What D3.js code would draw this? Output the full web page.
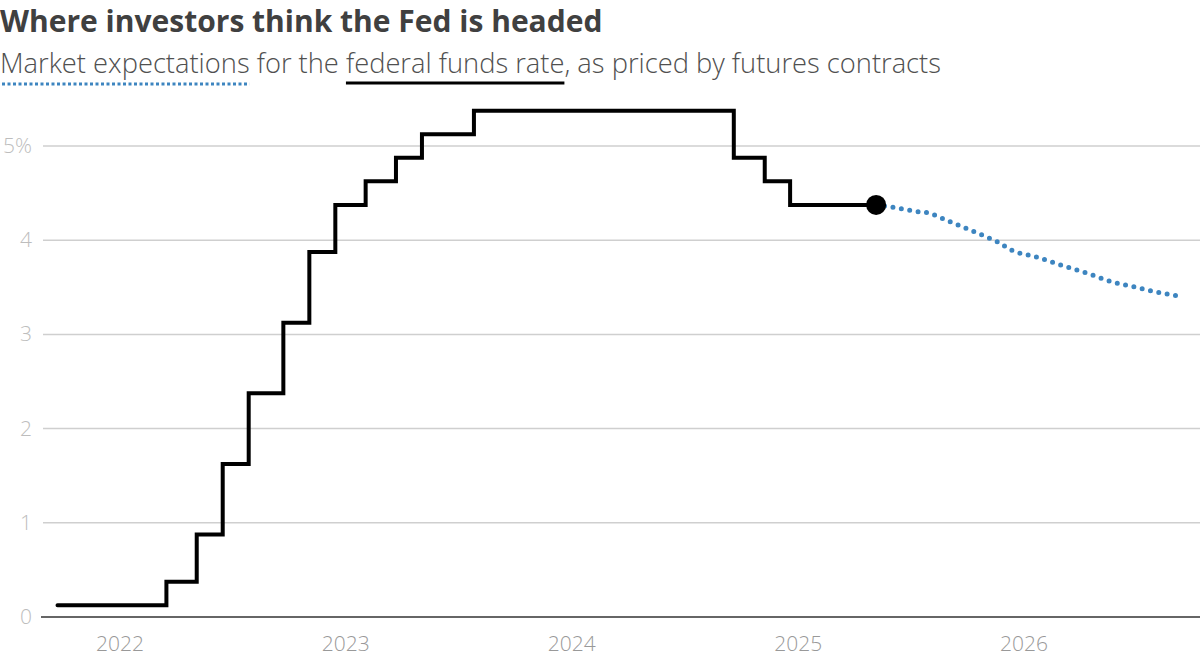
<!DOCTYPE html>
<html>
<head>
<meta charset="utf-8">
<script src="https://cdn.jsdelivr.net/npm/d3@7"></script>
<style>
  body { margin: 0; background: #fff; }
  text { font-family: "Open Sans", "Noto Sans", sans-serif; }
</style>
</head>
<body>
<div id="chart"></div>
<script>
'use strict';

// fed funds target midpoint, step changes
const rateDates = ['2021-09-22', '2022-03-17', '2022-05-05', '2022-06-16', '2022-07-28',
  '2022-09-22', '2022-11-03', '2022-12-15', '2023-02-02', '2023-03-23', '2023-05-04',
  '2023-07-27', '2024-09-19', '2024-11-08', '2024-12-19', '2025-05-07'];
const rateValues = [0.125, 0.375, 0.875, 1.625, 2.375, 3.125, 3.875, 4.375, 4.625,
  4.875, 5.125, 5.375, 4.875, 4.625, 4.375, 4.375];

// futures implied path
const futDates = ['2025-05-07', '2025-06-03', '2025-07-16', '2025-07-30', '2025-08-29',
  '2025-09-24', '2025-11-03', '2025-11-20', '2025-12-10', '2026-01-22', '2026-02-28',
  '2026-04-13', '2026-05-22', '2026-07-01', '2026-08-11', '2026-09-16'];
const futValues = [4.375, 4.35, 4.30, 4.29, 4.21, 4.14, 4.03, 3.98, 3.90, 3.82, 3.74,
  3.65, 3.56, 3.50, 3.44, 3.40];

const yTicks = [0, 1, 2, 3, 4, 5];
const xTicks = ['2022', '2023', '2024', '2025', '2026'];

const width = 1200;
const height = 667;
const parse = d3.timeParse('%Y-%m-%d');

const svg = d3.select('#chart')
  .append('svg')
  .attr('width', width)
  .attr('height', height);

// title + subtitle
svg.append('text')
  .attr('x', 0)
  .attr('y', 32)
  .attr('font-size', 30)
  .attr('font-weight', 700)
  .attr('fill', '#404040')
  .text('Where investors think the Fed is headed');

const subParts = ['Market expectations', ' for the ', 'federal funds rate', ', as priced by futures contracts'];
const sub = svg.append('text')
  .attr('x', 0)
  .attr('y', 73)
  .attr('font-size', 27.3)
  .attr('font-weight', 300)
  .attr('fill', '#505050');
const spans = subParts.map(p => sub.append('tspan').text(p));
const offs = [];
let acc = 0;
spans.forEach(s => { offs.push(acc); acc += s.node().getComputedTextLength(); });

svg.append('line')
  .attr('x1', 2).attr('x2', offs[1])
  .attr('y1', 84).attr('y2', 84)
  .attr('stroke', '#3d85c0')
  .attr('stroke-width', 3)
  .attr('stroke-dasharray', '3 2.5');
svg.append('line')
  .attr('x1', offs[2]).attr('x2', offs[3])
  .attr('y1', 83).attr('y2', 83)
  .attr('stroke', '#000')
  .attr('stroke-width', 3);

// scales
const x = d3.scaleTime()
  .domain([parse('2022-01-01'), parse('2026-01-01')])
  .range([120, 1024]);
const y = d3.scaleLinear()
  .domain([0, 5])
  .range([617, 146]);

// gridlines
svg.append('g')
  .selectAll('line')
  .data(yTicks.filter(d => d > 0))
  .enter()
  .append('line')
  .attr('x1', 43).attr('x2', width)
  .attr('y1', d => y(d)).attr('y2', d => y(d))
  .attr('stroke', '#cfcfcf')
  .attr('stroke-width', 1.5);

svg.append('g')
  .selectAll('text')
  .data(yTicks)
  .enter()
  .append('text')
  .attr('x', 32)
  .attr('y', d => y(d) + 7)
  .attr('text-anchor', 'end')
  .attr('font-size', 21)
  .attr('font-weight', 300)
  .attr('fill', '#bdbdbd')
  .text(d => d === 5 ? '5%' : d);

// x axis
svg.append('line')
  .attr('x1', 41).attr('x2', width)
  .attr('y1', y(0)).attr('y2', y(0))
  .attr('stroke', '#666')
  .attr('stroke-width', 2);

svg.append('g')
  .selectAll('text')
  .data(xTicks)
  .enter()
  .append('text')
  .attr('x', d => x(parse(d + '-01-01')))
  .attr('y', 651)
  .attr('text-anchor', 'middle')
  .attr('font-size', 21)
  .attr('font-weight', 300)
  .attr('fill', '#999')
  .text(d => d);

// futures dotted line
const futData = futDates.map((d, i) => [parse(d), futValues[i]]);
svg.append('path')
  .datum(futData)
  .attr('d', d3.line().x(d => x(d[0])).y(d => y(d[1])).curve(d3.curveMonotoneX))
  .attr('fill', 'none')
  .attr('stroke', '#3d85c0')
  .attr('stroke-width', 5)
  .attr('stroke-linecap', 'round')
  .attr('stroke-dasharray', '0 8.5');

// actual rate step line
const rateData = rateDates.map((d, i) => [parse(d), rateValues[i]]);
svg.append('path')
  .datum(rateData)
  .attr('d', d3.line().x(d => x(d[0])).y(d => y(d[1])).curve(d3.curveStepAfter))
  .attr('fill', 'none')
  .attr('stroke', '#000')
  .attr('stroke-width', 4)
  .attr('stroke-linecap', 'round');

const last = rateData[rateData.length - 1];
svg.append('circle')
  .attr('cx', x(last[0]))
  .attr('cy', y(last[1]))
  .attr('r', 10)
  .attr('fill', '#000');
</script>
</body>
</html>
